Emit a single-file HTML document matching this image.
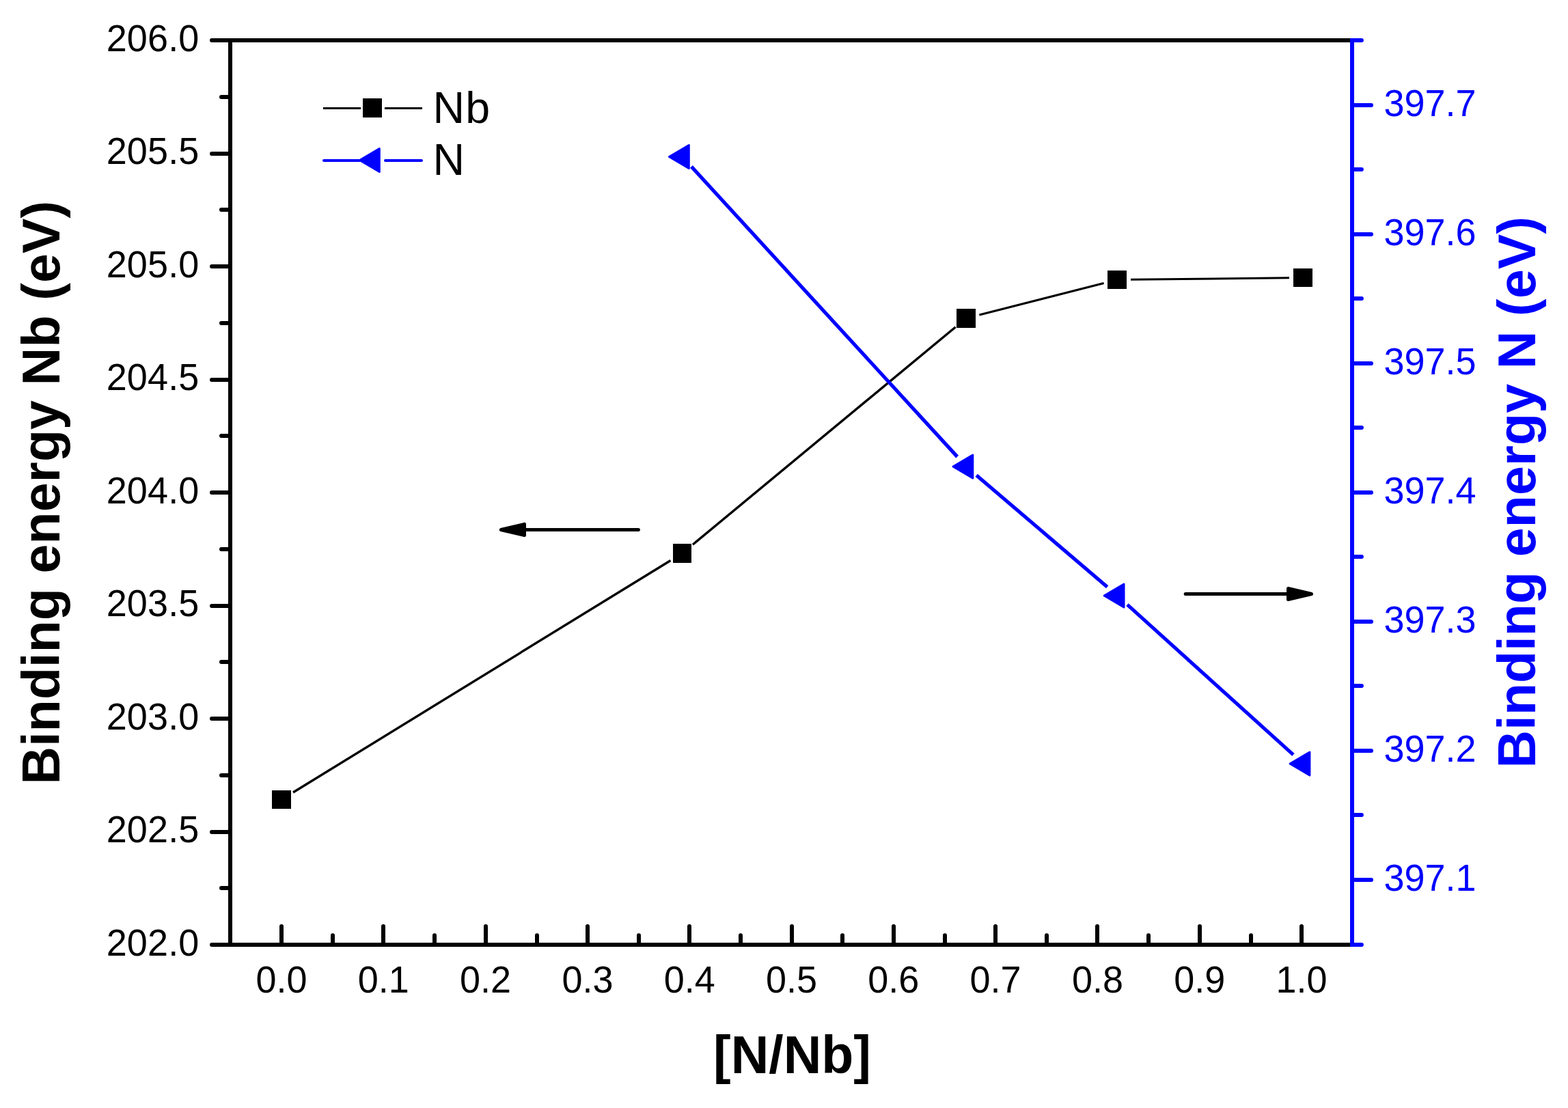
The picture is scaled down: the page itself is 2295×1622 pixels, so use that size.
<!DOCTYPE html>
<html lang="en">
<head>
<meta charset="utf-8">
<title>Binding energy of Nb and N versus [N/Nb]</title>
<style>
html,body{margin:0;padding:0;background:#fff;width:2295px;height:1622px;}
svg{display:block;}
svg text{font-family:"Liberation Sans",sans-serif;}
</style>
</head>
<body>
<svg width="2295" height="1622" viewBox="0 0 2295 1622">
<rect x="0" y="0" width="2295" height="1622" fill="#ffffff"/>
<g id="ticks-left">
<line x1="310.00" y1="59.00" x2="337.00" y2="59.00" stroke="#000" stroke-width="6.0" stroke-linecap="round"/>
<line x1="310.00" y1="225.00" x2="337.00" y2="225.00" stroke="#000" stroke-width="6.0" stroke-linecap="round"/>
<line x1="310.00" y1="390.00" x2="337.00" y2="390.00" stroke="#000" stroke-width="6.0" stroke-linecap="round"/>
<line x1="310.00" y1="556.00" x2="337.00" y2="556.00" stroke="#000" stroke-width="6.0" stroke-linecap="round"/>
<line x1="310.00" y1="721.00" x2="337.00" y2="721.00" stroke="#000" stroke-width="6.0" stroke-linecap="round"/>
<line x1="310.00" y1="887.00" x2="337.00" y2="887.00" stroke="#000" stroke-width="6.0" stroke-linecap="round"/>
<line x1="310.00" y1="1052.00" x2="337.00" y2="1052.00" stroke="#000" stroke-width="6.0" stroke-linecap="round"/>
<line x1="310.00" y1="1218.00" x2="337.00" y2="1218.00" stroke="#000" stroke-width="6.0" stroke-linecap="round"/>
<line x1="310.00" y1="1383.00" x2="337.00" y2="1383.00" stroke="#000" stroke-width="6.0" stroke-linecap="round"/>
<line x1="324.00" y1="142.00" x2="337.00" y2="142.00" stroke="#000" stroke-width="6.0" stroke-linecap="round"/>
<line x1="324.00" y1="307.00" x2="337.00" y2="307.00" stroke="#000" stroke-width="6.0" stroke-linecap="round"/>
<line x1="324.00" y1="473.00" x2="337.00" y2="473.00" stroke="#000" stroke-width="6.0" stroke-linecap="round"/>
<line x1="324.00" y1="638.00" x2="337.00" y2="638.00" stroke="#000" stroke-width="6.0" stroke-linecap="round"/>
<line x1="324.00" y1="804.00" x2="337.00" y2="804.00" stroke="#000" stroke-width="6.0" stroke-linecap="round"/>
<line x1="324.00" y1="969.00" x2="337.00" y2="969.00" stroke="#000" stroke-width="6.0" stroke-linecap="round"/>
<line x1="324.00" y1="1135.00" x2="337.00" y2="1135.00" stroke="#000" stroke-width="6.0" stroke-linecap="round"/>
<line x1="324.00" y1="1300.00" x2="337.00" y2="1300.00" stroke="#000" stroke-width="6.0" stroke-linecap="round"/>
</g>
<g id="ticks-bottom">
<line x1="412.00" y1="1383.00" x2="412.00" y2="1356.00" stroke="#000" stroke-width="6.0" stroke-linecap="round"/>
<line x1="561.00" y1="1383.00" x2="561.00" y2="1356.00" stroke="#000" stroke-width="6.0" stroke-linecap="round"/>
<line x1="711.00" y1="1383.00" x2="711.00" y2="1356.00" stroke="#000" stroke-width="6.0" stroke-linecap="round"/>
<line x1="860.00" y1="1383.00" x2="860.00" y2="1356.00" stroke="#000" stroke-width="6.0" stroke-linecap="round"/>
<line x1="1009.00" y1="1383.00" x2="1009.00" y2="1356.00" stroke="#000" stroke-width="6.0" stroke-linecap="round"/>
<line x1="1159.00" y1="1383.00" x2="1159.00" y2="1356.00" stroke="#000" stroke-width="6.0" stroke-linecap="round"/>
<line x1="1308.00" y1="1383.00" x2="1308.00" y2="1356.00" stroke="#000" stroke-width="6.0" stroke-linecap="round"/>
<line x1="1457.00" y1="1383.00" x2="1457.00" y2="1356.00" stroke="#000" stroke-width="6.0" stroke-linecap="round"/>
<line x1="1606.00" y1="1383.00" x2="1606.00" y2="1356.00" stroke="#000" stroke-width="6.0" stroke-linecap="round"/>
<line x1="1756.00" y1="1383.00" x2="1756.00" y2="1356.00" stroke="#000" stroke-width="6.0" stroke-linecap="round"/>
<line x1="1905.00" y1="1383.00" x2="1905.00" y2="1356.00" stroke="#000" stroke-width="6.0" stroke-linecap="round"/>
<line x1="487.00" y1="1383.00" x2="487.00" y2="1369.20" stroke="#000" stroke-width="6.0" stroke-linecap="round"/>
<line x1="636.00" y1="1383.00" x2="636.00" y2="1369.20" stroke="#000" stroke-width="6.0" stroke-linecap="round"/>
<line x1="786.00" y1="1383.00" x2="786.00" y2="1369.20" stroke="#000" stroke-width="6.0" stroke-linecap="round"/>
<line x1="935.00" y1="1383.00" x2="935.00" y2="1369.20" stroke="#000" stroke-width="6.0" stroke-linecap="round"/>
<line x1="1084.00" y1="1383.00" x2="1084.00" y2="1369.20" stroke="#000" stroke-width="6.0" stroke-linecap="round"/>
<line x1="1233.00" y1="1383.00" x2="1233.00" y2="1369.20" stroke="#000" stroke-width="6.0" stroke-linecap="round"/>
<line x1="1383.00" y1="1383.00" x2="1383.00" y2="1369.20" stroke="#000" stroke-width="6.0" stroke-linecap="round"/>
<line x1="1532.00" y1="1383.00" x2="1532.00" y2="1369.20" stroke="#000" stroke-width="6.0" stroke-linecap="round"/>
<line x1="1681.00" y1="1383.00" x2="1681.00" y2="1369.20" stroke="#000" stroke-width="6.0" stroke-linecap="round"/>
<line x1="1831.00" y1="1383.00" x2="1831.00" y2="1369.20" stroke="#000" stroke-width="6.0" stroke-linecap="round"/>
</g>
<g id="ticks-right">
<line x1="1979.00" y1="154.00" x2="2007.00" y2="154.00" stroke="#0000ff" stroke-width="6.0" stroke-linecap="round"/>
<line x1="1979.00" y1="343.00" x2="2007.00" y2="343.00" stroke="#0000ff" stroke-width="6.0" stroke-linecap="round"/>
<line x1="1979.00" y1="532.00" x2="2007.00" y2="532.00" stroke="#0000ff" stroke-width="6.0" stroke-linecap="round"/>
<line x1="1979.00" y1="721.00" x2="2007.00" y2="721.00" stroke="#0000ff" stroke-width="6.0" stroke-linecap="round"/>
<line x1="1979.00" y1="910.00" x2="2007.00" y2="910.00" stroke="#0000ff" stroke-width="6.0" stroke-linecap="round"/>
<line x1="1979.00" y1="1099.00" x2="2007.00" y2="1099.00" stroke="#0000ff" stroke-width="6.0" stroke-linecap="round"/>
<line x1="1979.00" y1="1288.00" x2="2007.00" y2="1288.00" stroke="#0000ff" stroke-width="6.0" stroke-linecap="round"/>
<line x1="1979.00" y1="59.00" x2="1992.90" y2="59.00" stroke="#0000ff" stroke-width="6.0" stroke-linecap="round"/>
<line x1="1979.00" y1="248.00" x2="1992.90" y2="248.00" stroke="#0000ff" stroke-width="6.0" stroke-linecap="round"/>
<line x1="1979.00" y1="437.00" x2="1992.90" y2="437.00" stroke="#0000ff" stroke-width="6.0" stroke-linecap="round"/>
<line x1="1979.00" y1="626.00" x2="1992.90" y2="626.00" stroke="#0000ff" stroke-width="6.0" stroke-linecap="round"/>
<line x1="1979.00" y1="815.00" x2="1992.90" y2="815.00" stroke="#0000ff" stroke-width="6.0" stroke-linecap="round"/>
<line x1="1979.00" y1="1004.00" x2="1992.90" y2="1004.00" stroke="#0000ff" stroke-width="6.0" stroke-linecap="round"/>
<line x1="1979.00" y1="1193.00" x2="1992.90" y2="1193.00" stroke="#0000ff" stroke-width="6.0" stroke-linecap="round"/>
<line x1="1979.00" y1="1383.00" x2="1992.90" y2="1383.00" stroke="#0000ff" stroke-width="6.0" stroke-linecap="round"/>
</g>
<g id="axes">
<rect x="334.00" y="56.00" width="1642.00" height="6.00" fill="#000"/>
<rect x="334.00" y="1380.00" width="1642.00" height="6.00" fill="#000"/>
<rect x="334.00" y="56.00" width="6.00" height="1330.00" fill="#000"/>
<rect x="1976.00" y="56.00" width="6.00" height="1330.00" fill="#0000ff"/>
</g>
<g id="labels-left">
<text x="0" y="0" text-anchor="end" fill="#000" style="font-size:54.0px;letter-spacing:0.15px;" transform="translate(291.50 74.70) scale(1 1.025)">206.0</text>
<text x="0" y="0" text-anchor="end" fill="#000" style="font-size:54.0px;letter-spacing:0.15px;" transform="translate(291.50 240.20) scale(1 1.025)">205.5</text>
<text x="0" y="0" text-anchor="end" fill="#000" style="font-size:54.0px;letter-spacing:0.15px;" transform="translate(291.50 405.70) scale(1 1.025)">205.0</text>
<text x="0" y="0" text-anchor="end" fill="#000" style="font-size:54.0px;letter-spacing:0.15px;" transform="translate(291.50 571.20) scale(1 1.025)">204.5</text>
<text x="0" y="0" text-anchor="end" fill="#000" style="font-size:54.0px;letter-spacing:0.15px;" transform="translate(291.50 736.70) scale(1 1.025)">204.0</text>
<text x="0" y="0" text-anchor="end" fill="#000" style="font-size:54.0px;letter-spacing:0.15px;" transform="translate(291.50 902.20) scale(1 1.025)">203.5</text>
<text x="0" y="0" text-anchor="end" fill="#000" style="font-size:54.0px;letter-spacing:0.15px;" transform="translate(291.50 1067.70) scale(1 1.025)">203.0</text>
<text x="0" y="0" text-anchor="end" fill="#000" style="font-size:54.0px;letter-spacing:0.15px;" transform="translate(291.50 1233.20) scale(1 1.025)">202.5</text>
<text x="0" y="0" text-anchor="end" fill="#000" style="font-size:54.0px;letter-spacing:0.15px;" transform="translate(291.50 1398.70) scale(1 1.025)">202.0</text>
</g>
<g id="labels-bottom">
<text x="0" y="0" text-anchor="middle" fill="#000" style="font-size:54.0px;" transform="translate(412.00 1453.00) scale(1 1.025)">0.0</text>
<text x="0" y="0" text-anchor="middle" fill="#000" style="font-size:54.0px;" transform="translate(561.30 1453.00) scale(1 1.025)">0.1</text>
<text x="0" y="0" text-anchor="middle" fill="#000" style="font-size:54.0px;" transform="translate(710.60 1453.00) scale(1 1.025)">0.2</text>
<text x="0" y="0" text-anchor="middle" fill="#000" style="font-size:54.0px;" transform="translate(859.90 1453.00) scale(1 1.025)">0.3</text>
<text x="0" y="0" text-anchor="middle" fill="#000" style="font-size:54.0px;" transform="translate(1009.20 1453.00) scale(1 1.025)">0.4</text>
<text x="0" y="0" text-anchor="middle" fill="#000" style="font-size:54.0px;" transform="translate(1158.50 1453.00) scale(1 1.025)">0.5</text>
<text x="0" y="0" text-anchor="middle" fill="#000" style="font-size:54.0px;" transform="translate(1307.80 1453.00) scale(1 1.025)">0.6</text>
<text x="0" y="0" text-anchor="middle" fill="#000" style="font-size:54.0px;" transform="translate(1457.10 1453.00) scale(1 1.025)">0.7</text>
<text x="0" y="0" text-anchor="middle" fill="#000" style="font-size:54.0px;" transform="translate(1606.40 1453.00) scale(1 1.025)">0.8</text>
<text x="0" y="0" text-anchor="middle" fill="#000" style="font-size:54.0px;" transform="translate(1755.70 1453.00) scale(1 1.025)">0.9</text>
<text x="0" y="0" text-anchor="middle" fill="#000" style="font-size:54.0px;" transform="translate(1905.00 1453.00) scale(1 1.025)">1.0</text>
</g>
<g id="labels-right">
<text x="0" y="0" text-anchor="start" fill="#0000ff" style="font-size:54.0px;" transform="translate(2025.50 170.00) scale(1 1.025)">397.7</text>
<text x="0" y="0" text-anchor="start" fill="#0000ff" style="font-size:54.0px;" transform="translate(2025.50 359.00) scale(1 1.025)">397.6</text>
<text x="0" y="0" text-anchor="start" fill="#0000ff" style="font-size:54.0px;" transform="translate(2025.50 548.00) scale(1 1.025)">397.5</text>
<text x="0" y="0" text-anchor="start" fill="#0000ff" style="font-size:54.0px;" transform="translate(2025.50 737.00) scale(1 1.025)">397.4</text>
<text x="0" y="0" text-anchor="start" fill="#0000ff" style="font-size:54.0px;" transform="translate(2025.50 926.00) scale(1 1.025)">397.3</text>
<text x="0" y="0" text-anchor="start" fill="#0000ff" style="font-size:54.0px;" transform="translate(2025.50 1115.00) scale(1 1.025)">397.2</text>
<text x="0" y="0" text-anchor="start" fill="#0000ff" style="font-size:54.0px;" transform="translate(2025.50 1304.00) scale(1 1.025)">397.1</text>
</g>
<g id="series-nb">
<line x1="429.04" y1="1160.03" x2="981.46" y2="820.47" stroke="#000" stroke-width="3.4" stroke-linecap="butt"/>
<line x1="1013.91" y1="797.25" x2="1398.59" y2="478.75" stroke="#000" stroke-width="3.4" stroke-linecap="butt"/>
<line x1="1433.38" y1="461.05" x2="1615.62" y2="414.45" stroke="#000" stroke-width="3.2" stroke-linecap="butt"/>
<line x1="1655.00" y1="409.28" x2="1887.00" y2="406.72" stroke="#000" stroke-width="3.0" stroke-linecap="butt"/>
<rect x="398.00" y="1157.00" width="28.00" height="27.00" fill="#000"/>
<rect x="985.00" y="796.00" width="27.00" height="28.00" fill="#000"/>
<rect x="1400.00" y="452.00" width="28.00" height="28.00" fill="#000"/>
<rect x="1621.00" y="396.00" width="28.00" height="27.00" fill="#000"/>
<rect x="1893.00" y="393.00" width="28.00" height="27.00" fill="#000"/>
</g>
<g id="series-n">
<line x1="1011.97" y1="243.88" x2="1401.13" y2="668.62" stroke="#0000ff" stroke-width="5.2" stroke-linecap="butt"/>
<line x1="1429.13" y1="695.67" x2="1620.67" y2="859.33" stroke="#0000ff" stroke-width="5.2" stroke-linecap="butt"/>
<line x1="1649.96" y1="885.08" x2="1892.94" y2="1104.92" stroke="#0000ff" stroke-width="5.2" stroke-linecap="butt"/>
<polygon points="979.50,229.50 1008.30,212.60 1008.30,246.40" fill="#0000ff" stroke="#0000ff" stroke-width="3" stroke-linejoin="round"/>
<polygon points="1395.00,683.00 1423.80,666.10 1423.80,699.90" fill="#0000ff" stroke="#0000ff" stroke-width="3" stroke-linejoin="round"/>
<polygon points="1616.20,872.00 1645.00,855.10 1645.00,888.90" fill="#0000ff" stroke="#0000ff" stroke-width="3" stroke-linejoin="round"/>
<polygon points="1888.10,1118.00 1916.90,1101.10 1916.90,1134.90" fill="#0000ff" stroke="#0000ff" stroke-width="3" stroke-linejoin="round"/>
</g>
<g id="arrows">
<line x1="768.00" y1="775.50" x2="934.40" y2="775.50" stroke="#000" stroke-width="5" stroke-linecap="round"/>
<polygon points="733.30,775.50 767.50,767.40 767.50,783.60" fill="#000" stroke="#000" stroke-width="5" stroke-linejoin="round"/>
<line x1="1735.20" y1="869.50" x2="1885.00" y2="869.50" stroke="#000" stroke-width="5" stroke-linecap="round"/>
<polygon points="1919.50,869.50 1885.50,861.50 1885.50,877.50" fill="#000" stroke="#000" stroke-width="5" stroke-linejoin="round"/>
</g>
<g id="legend">
<line x1="473.00" y1="158.50" x2="528.00" y2="158.50" stroke="#000" stroke-width="3" stroke-linecap="butt"/>
<line x1="563.00" y1="158.50" x2="618.00" y2="158.50" stroke="#000" stroke-width="3" stroke-linecap="butt"/>
<rect x="531.00" y="144.00" width="28.00" height="28.00" fill="#000"/>
<text x="633.60" y="180.00" text-anchor="start" fill="#000" style="font-size:64.5px;letter-spacing:1.0px;">Nb</text>
<line x1="474.00" y1="235.00" x2="530.00" y2="235.00" stroke="#0000ff" stroke-width="4" stroke-linecap="round"/>
<line x1="564.00" y1="235.00" x2="617.00" y2="235.00" stroke="#0000ff" stroke-width="4" stroke-linecap="round"/>
<polygon points="526.50,234.50 555.30,217.60 555.30,251.40" fill="#0000ff" stroke="#0000ff" stroke-width="3" stroke-linejoin="round"/>
<text x="633.60" y="256.00" text-anchor="start" fill="#000" style="font-size:64.5px;">N</text>
</g>
<g id="titles">
<text x="87.10" y="721.20" text-anchor="middle" fill="#000" style="font-size:77.0px;font-weight:bold;letter-spacing:0.16px;" transform="rotate(-90 87.10 721.20)">Binding energy Nb (eV)</text>
<text x="2246.60" y="720.60" text-anchor="middle" fill="#0000ff" style="font-size:77.0px;font-weight:bold;letter-spacing:0.16px;" transform="rotate(-90 2246.60 720.60)">Binding energy N (eV)</text>
<text x="1159.50" y="1571.00" text-anchor="middle" fill="#000" style="font-size:77.0px;font-weight:bold;">[N/Nb]</text>
</g>
</svg>
</body>
</html>
